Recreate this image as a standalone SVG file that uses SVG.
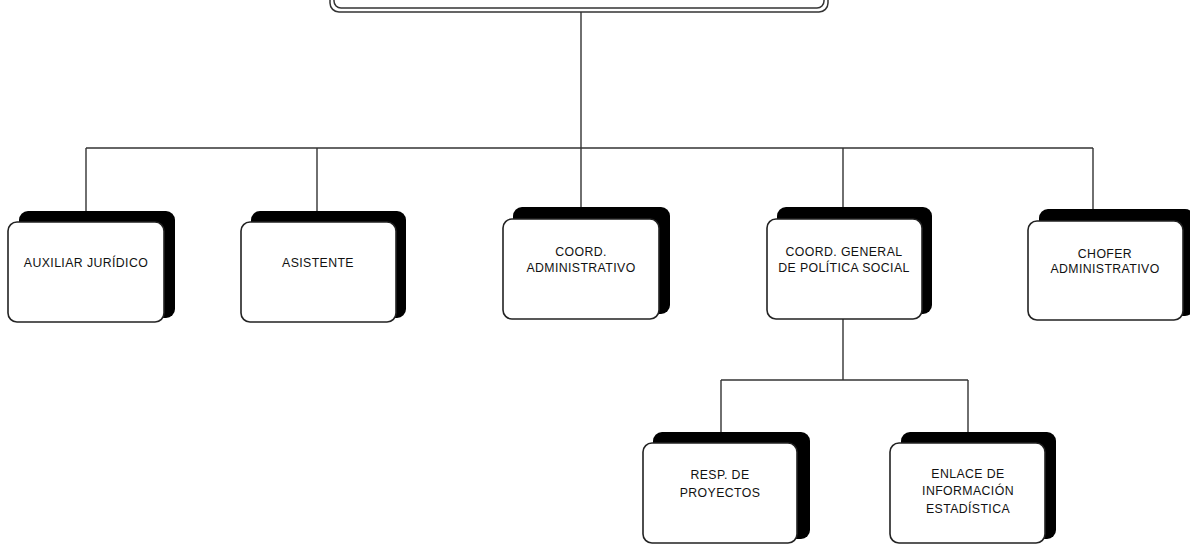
<svg xmlns="http://www.w3.org/2000/svg" width="1190" height="544" viewBox="0 0 1190 544">
<style>
.sh{fill:#000;}
.bx{fill:#fff;stroke:#222;stroke-width:1.6;}
.ln{stroke:#333;stroke-width:1.4;fill:none;}
.t{font-family:"Liberation Sans",Arial,sans-serif;font-size:12.3px;letter-spacing:0.4px;fill:#111;text-anchor:middle;}
</style>
<rect width="1190" height="544" fill="#fff"/>
<g id="connectors">
<line class="ln" x1="581" y1="12" x2="581" y2="207"/>
<line class="ln" x1="86" y1="148" x2="1093" y2="148"/>
<line class="ln" x1="86" y1="148" x2="86" y2="211"/>
<line class="ln" x1="317" y1="148" x2="317" y2="211"/>
<line class="ln" x1="843" y1="148" x2="843" y2="208"/>
<line class="ln" x1="1093" y1="148" x2="1093" y2="210"/>
<line class="ln" x1="843" y1="319" x2="843" y2="380"/>
<line class="ln" x1="721" y1="380" x2="968" y2="380"/>
<line class="ln" x1="721" y1="380" x2="721" y2="432"/>
<line class="ln" x1="968" y1="380" x2="968" y2="432"/>
</g>
<g id="top">
<rect x="330" y="-40" width="498" height="52" rx="9" fill="#fff" stroke="#333" stroke-width="1.5"/>
<rect x="334" y="-40" width="490" height="48" rx="7" fill="none" stroke="#333" stroke-width="1.5"/>
</g>
<g id="auxiliar">
<rect class="sh" x="19" y="211" width="156" height="107" rx="9"/>
<rect class="bx" x="8" y="222" width="156" height="100" rx="9"/>
<text class="t" x="86" y="267">AUXILIAR JURÍDICO</text>
</g>
<g id="asistente">
<rect class="sh" x="251" y="211" width="155" height="107" rx="9"/>
<rect class="bx" x="241" y="222" width="155" height="100" rx="9"/>
<text class="t" x="318" y="267">ASISTENTE</text>
</g>
<g id="coord-admin">
<rect class="sh" x="513" y="207" width="157" height="107" rx="9"/>
<rect class="bx" x="503" y="219" width="156" height="100" rx="9"/>
<text class="t" x="581" y="256">COORD.</text>
<text class="t" x="581" y="272">ADMINISTRATIVO</text>
</g>
<g id="coord-general">
<rect class="sh" x="777" y="207" width="155" height="107" rx="9"/>
<rect class="bx" x="767" y="219" width="155" height="100" rx="9"/>
<text class="t" x="844" y="256">COORD. GENERAL</text>
<text class="t" x="844" y="272">DE POLÍTICA SOCIAL</text>
</g>
<g id="chofer">
<rect class="sh" x="1039" y="209" width="155" height="107" rx="9"/>
<rect class="bx" x="1028" y="221" width="155" height="99" rx="9"/>
<text class="t" x="1105" y="258">CHOFER</text>
<text class="t" x="1105" y="273">ADMINISTRATIVO</text>
</g>
<g id="resp">
<rect class="sh" x="653" y="432" width="157" height="107" rx="9"/>
<rect class="bx" x="643" y="443" width="154" height="100" rx="9"/>
<text class="t" x="720" y="479">RESP. DE</text>
<text class="t" x="720" y="497">PROYECTOS</text>
</g>
<g id="enlace">
<rect class="sh" x="901" y="432" width="155" height="107" rx="9"/>
<rect class="bx" x="890" y="443" width="155" height="100" rx="9"/>
<text class="t" x="968" y="478">ENLACE DE</text>
<text class="t" x="968" y="495">INFORMACIÓN</text>
<text class="t" x="968" y="513">ESTADÍSTICA</text>
</g>
</svg>
